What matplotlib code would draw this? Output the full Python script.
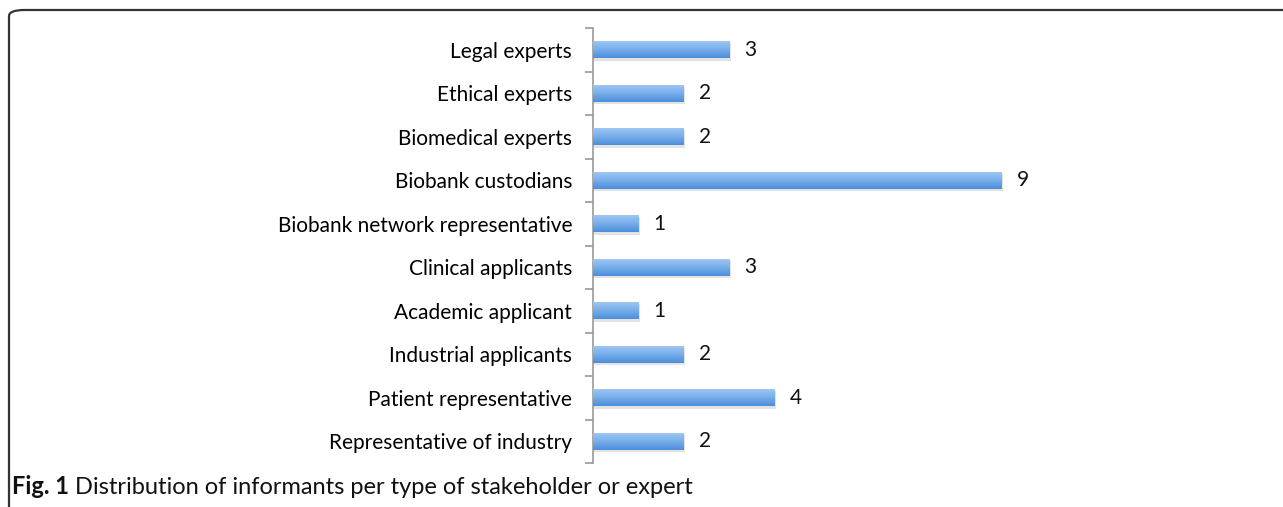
import matplotlib.pyplot as plt
import numpy as np
from matplotlib.patches import FancyBboxPatch
from matplotlib.colors import LinearSegmentedColormap

plt.rcParams['font.family'] = ['Lato', 'DejaVu Sans']

# categories, top to bottom
categories = [
    "Legal experts",
    "Ethical experts",
    "Biomedical experts",
    "Biobank custodians",
    "Biobank network representative",
    "Clinical applicants",
    "Academic applicant",
    "Industrial applicants",
    "Patient representative",
    "Representative of industry",
]
counts = [3, 2, 2, 9, 1, 3, 1, 2, 4, 2]

caption_bold = "Fig. 1"
caption_text = "Distribution of informants per type of stakeholder or expert"

W, H = 1283, 507
fig = plt.figure(figsize=(W / 100, H / 100), dpi=100)

# rounded frame around the figure (left + top visible)
frame = FancyBboxPatch((9 / W, -0.2), 1.2, 1.2 - 10 / H,
                       boxstyle="round,pad=0,rounding_size=0.012",
                       transform=fig.transFigure, fill=False,
                       edgecolor="#333333", linewidth=1.6)
fig.patches.append(frame)

ax = fig.add_axes([593 / W, 1 - 463 / H, (1270 - 593) / W, (463 - 28) / H])

y = np.arange(len(categories))[::-1]

# soft shadow under each bar
ax.barh(y - 0.05, counts, height=0.4, left=0.03, color="#c8c8c8", alpha=0.5, zorder=2)
bars = ax.barh(y, counts, height=0.4, color="#6aa5e6", zorder=3)

# vertical gradient on the bars
grad = np.linspace(0, 1, 64).reshape(-1, 1)
cmap = LinearSegmentedColormap.from_list("barblue", ["#a2c8f3", "#78afeb", "#4d8edb"])
for b in bars:
    x0, y0 = b.get_x(), b.get_y()
    w, h = b.get_width(), b.get_height()
    im = ax.imshow(grad, extent=(x0, x0 + w, y0, y0 + h), origin="upper",
                   cmap=cmap, aspect="auto", zorder=4)
    im.set_clip_path(b)

for yi, c in zip(y, counts):
    ax.text(c + 0.33, yi, str(c), va="center", ha="left", fontsize=15, color="#111111")

ax.set_xlim(0, (1270 - 593) / 45.4)
ax.set_ylim(-0.5, len(categories) - 0.5)

ax.set_yticks(y)
ax.set_yticklabels(categories, fontsize=15)
ax.set_yticks(np.arange(-0.5, len(categories), 1), minor=True)
ax.tick_params(axis="y", which="major", length=0, pad=15)
ax.tick_params(axis="y", which="minor", length=6, color="#999999", width=1.2)
ax.set_xticks([])

for s in ["top", "right", "bottom"]:
    ax.spines[s].set_visible(False)
ax.spines["left"].set_color("#999999")
ax.spines["left"].set_linewidth(1.2)

# caption: bold part, then normal text right after it
cy = 1 - 487 / H
tb = fig.text(12 / W, cy, caption_bold, fontsize=17, fontweight="bold",
              va="center", ha="left", color="#111111")
renderer = fig.canvas.get_renderer()
bb = tb.get_window_extent(renderer)
fig.text((bb.x1 + 6) / W, cy, caption_text, fontsize=17,
         va="center", ha="left", color="#111111")

fig.savefig("out.png", dpi=100)
